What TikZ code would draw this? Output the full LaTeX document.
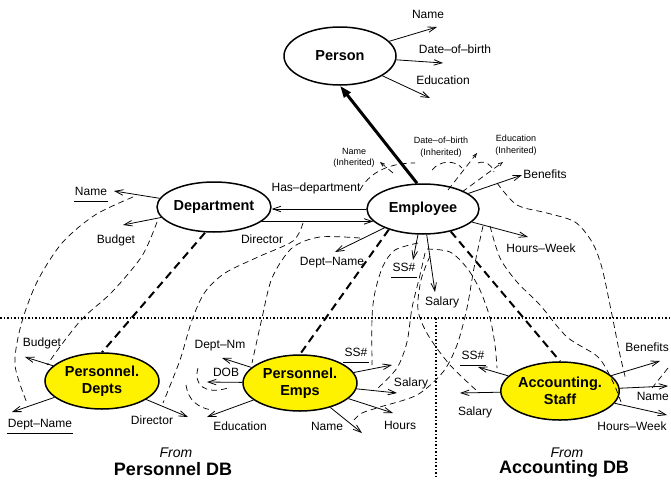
\documentclass[tikz,border=0pt]{standalone}
\usepackage{fontspec}
\setmainfont{Liberation Sans}
\usetikzlibrary{arrows.meta,shapes.geometric}
\begin{document}
\begin{tikzpicture}[x=1pt,y=-1pt,
  ent/.style={ellipse, draw, line width=1.5pt, inner sep=0pt, align=center,
    font=\fontsize{14.5}{16.5}\selectfont\bfseries},
  yent/.style={ent, fill=yellow},
  lbl/.style={font=\fontsize{12}{14}\selectfont, inner sep=1pt, text height=9pt, text depth=2.5pt},
  ilbl/.style={font=\fontsize{9}{11.5}\selectfont, inner sep=0pt, align=center},
  arr/.style={line width=0.8pt, -{Straight Barb[length=8pt,width=5.5pt]}},
  bigarr/.style={line width=3pt, -{Triangle[length=12pt,width=8pt]}},
  isa/.style={line width=2pt, dash pattern=on 8pt off 5pt},
  corr/.style={line width=0.7pt, dash pattern=on 6pt off 4pt},
  uline/.style={line width=1.6pt},
  sep/.style={line width=1.6pt, dash pattern=on 1.5pt off 2pt},
  dbtitle/.style={font=\fontsize{18}{20}\selectfont\bfseries, inner sep=0pt},
  fromtxt/.style={font=\fontsize{14}{16}\selectfont\itshape, inner sep=0pt},
]
\useasboundingbox (0,0) rectangle (671,479);

% separators
\draw[sep] (0,318) -- (671,318);
\draw[sep] (436,318) -- (436,479);

% entities
\node[ent, minimum width=112pt, minimum height=58pt] (per) at (340,56) {Person};
\node[ent, minimum width=112pt, minimum height=50pt] (emp) at (423,209) {Employee};
\node[ent, minimum width=112pt, minimum height=50pt] (dep) at (214,207) {Department};
\node[yent, minimum width=114pt, minimum height=56pt] (pd) at (102,381) {Personnel.\\Depts};
\node[yent, minimum width=114pt, minimum height=56pt] (pe) at (300,383) {Personnel.\\Emps};
\node[yent, minimum width=114pt, minimum height=58pt] (as) at (560,391) {Accounting.\\Staff};

% ---- labels ----
\node[lbl] (lpName) at (428,15) {Name};
\node[lbl] (lpDob) at (455,50) {Date--of--birth};
\node[lbl] (lpEdu) at (443,81) {Education};

\node[ilbl] (liName) at (354,158) {Name\\(Inherited)};
\node[ilbl] (liDob) at (441,147) {Date--of--birth\\(Inherited)};
\node[ilbl] (liEdu) at (516,145) {Education\\(Inherited)};

\node[lbl] (lHas) at (316,188) {Has--department};
\node[lbl] (ldName) at (91,192) {Name};
\node[lbl] (ldBud) at (116,240) {Budget};
\node[lbl] (ldDir) at (262,240) {Director};

\node[lbl] (leBen) at (545,175) {Benefits};
\node[lbl] (leHW) at (541,249) {Hours--Week};
\node[lbl] (leDN) at (332,262) {Dept--Name};
\node[lbl] (leSS) at (404,268) {SS\#};
\node[lbl] (leSal) at (442,302) {Salary};

\node[lbl] (lpdBud) at (42,343) {Budget};
\node[lbl] (lpdDN) at (40,424) {Dept--Name};
\node[lbl] (lpdDir) at (152,421) {Director};

\node[lbl] (lpeDN) at (220,345) {Dept--Nm};
\node[lbl] (lpeDOB) at (226,373) {DOB};
\node[lbl] (lpeEdu) at (240,427) {Education};
\node[lbl] (lpeName) at (327,427) {Name};
\node[lbl] (lpeHrs) at (400,426) {Hours};
\node[lbl] (lpeSal) at (411,383) {Salary};
\node[lbl] (lpeSS) at (356,353) {SS\#};

\node[lbl] (lasSS) at (473,356) {SS\#};
\node[lbl] (lasSal) at (475,412) {Salary};
\node[lbl, anchor=east] (lasBen) at (670,348) {Benefits};
\node[lbl, anchor=east] (lasName) at (670,397) {Name};
\node[lbl] (lasHW) at (632,427) {Hours--Week};

\node[fromtxt] (f1) at (176,453) {From};
\node[dbtitle] (db1) at (173,469) {Personnel DB};
\node[fromtxt] (f2) at (567,453) {From};
\node[dbtitle] (db2) at (564,469) {Accounting DB};

% underlines
\foreach \n in {ldName,leSS,lpdDN,lpeSS,lasSS}
  \draw[uline] ([yshift=-2.5pt]\n.south west) -- ([yshift=-2.5pt]\n.south east);

% ---- arrow tip coordinates ----
\coordinate (tpName) at (437,27);
\coordinate (tpDob) at (443,63);
\coordinate (tpEdu) at (430,98);
\coordinate (tdName) at (114,191);
\coordinate (tdBud) at (123,225);
\coordinate (teBen) at (522,175);
\coordinate (teHW) at (528,237);
\coordinate (teDN) at (335,252);
\coordinate (teSS) at (413,260);
\coordinate (teSal) at (435,292);
\coordinate (tpdBud) at (25,357);
\coordinate (tpdDN) at (12,412);
\coordinate (tpdDir) at (188,417);
\coordinate (tpeDN) at (222,358);
\coordinate (tpeDOB) at (207,382);
\coordinate (tpeEdu) at (207,417);
\coordinate (tpeName) at (362,433);
\coordinate (tpeHrs) at (393,413);
\coordinate (tpeSal) at (397,393);
\coordinate (tpeSS) at (392,365);
\coordinate (tasSS) at (478,367);
\coordinate (tasSal) at (460,393);
\coordinate (tasBen) at (660,361);
\coordinate (tasName) at (668,386);
\coordinate (tasHW) at (667,415);

% ---- attribute arrows ----
\foreach \t in {tpName,tpDob,tpEdu} \draw[arr] (per) -- (\t);
\foreach \t in {tdName,tdBud} \draw[arr] (dep) -- (\t);
\foreach \t in {teBen,teHW,teDN,teSS,teSal} \draw[arr] (emp) -- (\t);
\foreach \t in {tpdBud,tpdDN,tpdDir} \draw[arr] (pd) -- (\t);
\foreach \t in {tpeDN,tpeDOB,tpeEdu,tpeName,tpeHrs,tpeSal,tpeSS} \draw[arr] (pe) -- (\t);
\foreach \t in {tasSS,tasSal,tasBen,tasName,tasHW} \draw[arr] (as) -- (\t);

% relationships between Department and Employee
\draw[arr] (emp.west) -- (emp.west -| dep.east);
\draw[arr] (dep.-17) -- (emp.194);

% is-a arrow
\draw[bigarr] ([xshift=-6pt]emp.north) -- (per.south);

% derivation links (thick dashed)
\draw[isa] ([xshift=-9pt]dep.south) -- (pd.north);
\draw[isa] (emp.211) -- (pe.north);
\draw[isa] (emp.-39) -- (as.north);

% ---- correspondence curves ----
\draw[corr] plot[smooth] coordinates {(133,197) (95,215) (62,243) (37,282) (21,325) (15,365) (27,403)};
\draw[corr] plot[smooth] coordinates {(157,222) (142,256) (112,292) (83,318) (62,344) (47,365)};
\draw[corr] plot[smooth] coordinates {(303,223) (293,241) (258,257) (225,273) (205,292) (192,320) (180,360) (163,403)};
\draw[corr] plot[smooth] coordinates {(360,238) (320,237) (292,248) (272,278) (262,318) (256,345) (252,363)};
\draw[corr] plot[smooth] coordinates {(418,243) (395,250) (383,266) (375,292) (372,318) (372,365)};
\draw[corr] plot[smooth] coordinates {(425,253) (420,275) (412,308) (407,342) (397,368) (378,388)};
\draw[corr] plot[smooth] coordinates {(427,249) (450,252) (467,268) (480,290) (490,318) (495,345) (497,368)};
\draw[corr] plot[smooth] coordinates {(430,256) (421,280) (418,310) (428,335) (450,365) (476,390)};
\draw[corr] plot[smooth] coordinates {(483,226) (474,268) (467,308) (457,345) (443,372) (417,395) (380,407) (362,413) (354,420)};
\draw[corr] plot[smooth] coordinates {(490,226) (500,258) (517,282) (540,305) (567,337) (598,357) (613,382) (621,402)};
\draw[corr] plot[smooth] coordinates {(497,183) (517,205) (547,213) (575,222) (592,242) (602,268) (612,315) (620,355) (626,380)};
\draw[corr] (668,368) -- (652,388);
% arcs near DOB / Education of Personnel.Emps
\draw[corr] (198,368) .. controls (193,385) and (205,395) .. (228,388);
\draw[corr] (186,385) .. controls (188,400) and (198,408) .. (212,410);

% inherited attribute marks
\draw[corr] (360,190) .. controls (368,175) and (385,163) .. (415,163);
\draw[corr, -{Straight Barb[length=4pt,width=3pt]}] (393,173) -- (380,162);
\draw[corr] (432,170) .. controls (440,160) and (455,160) .. (462,168);
\draw[corr, -{Straight Barb[length=4pt,width=3pt]}] (448,190) -- (477,153);
\draw[corr] (478,163) .. controls (485,160) and (492,165) .. (494,172);
\draw[corr, -{Straight Barb[length=4pt,width=3pt]}] (462,192) -- (503,162);
\end{tikzpicture}
\end{document}
